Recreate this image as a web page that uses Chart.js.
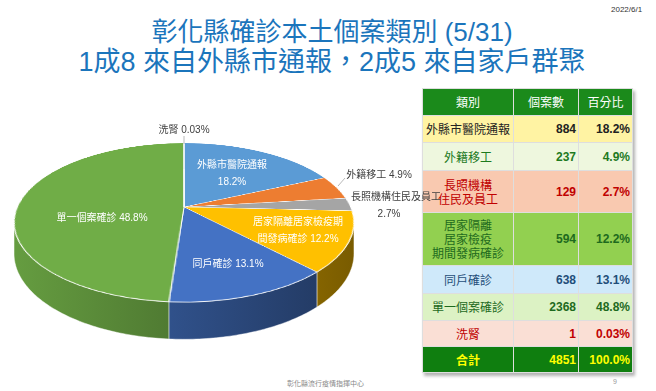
<!DOCTYPE html>
<html lang="zh-Hant-TW">
<head>
<meta charset="utf-8">
<script src="https://cdn.jsdelivr.net/npm/chart.js@4.4.1/dist/chart.umd.min.js"></script>
<style>
  body { margin: 0; width: 656px; height: 391px; background: #fff; overflow: hidden; position: relative;
         font-family: "Liberation Sans", "Noto Sans CJK TC", sans-serif; }
  .title { position: absolute; left: 0; width: 664px; text-align: center; color: #1b75bc; line-height: 30px; white-space: nowrap; }
  #t1 { top: 17px; font-size: 26px; }
  #t2 { top: 47px; font-size: 27px; }
  #date { position: absolute; left: 611px; top: 5px; font-size: 8px; color: #333; }
  #tbl { position: absolute; left: 422px; top: 88px; border-collapse: collapse; table-layout: fixed;
         box-shadow: 2px 3px 3px rgba(0,0,0,0.3); }
  #tbl td { border: 1px solid #dedede; padding: 0; font-size: 12px; line-height: 14px; }
  #tbl td.name { text-align: center; font-family: "Noto Sans CJK TC", sans-serif; }
  #tbl td.num { text-align: right; padding-right: 2px; font-weight: bold; }
  #pie { position: absolute; left: 0; top: 0; width: 460px; height: 391px; z-index: 2; pointer-events: none; }
  #foot { position: absolute; left: 287px; top: 378px; font-size: 7px; color: #888; font-family: "Noto Sans CJK TC", sans-serif; }
  #page { position: absolute; left: 613px; top: 378px; font-size: 7px; color: #999; }
</style>
</head>
<body>
<div id="date">2022/6/1</div>
<div class="title" id="t1">彰化縣確診本土個案類別 (5/31)</div>
<div class="title" id="t2">1成8 來自外縣市通報，2成5 來自家戶群聚</div>
<table id="tbl"></table>
<canvas id="pie" width="460" height="391"></canvas>
<div id="foot">彰化縣流行疫情指揮中心</div>
<div id="page">9</div>

<script>
// data
const categories = ["外縣市醫院通報", "外籍移工", "長照機構住民及員工", "居家隔離居家檢疫期間發病確診", "同戶確診", "單一個案確診", "洗腎"];
const tableNames = [["外縣市醫院通報"], ["外籍移工"], ["長照機構", "住民及員工"], ["居家隔離", "居家檢疫", "期間發病確診"], ["同戶確診"], ["單一個案確診"], ["洗腎"]];
const counts = [884, 237, 129, 594, 638, 2368, 1];
const percents = ["18.2%", "4.9%", "2.7%", "12.2%", "13.1%", "48.8%", "0.03%"];
const headers = ["類別", "個案數", "百分比"];
const totalLabel = "合計";
const totalCount = 4851;
const totalPercent = "100.0%";

// styles
const sliceColors = ["#5b9bd5", "#ed7d31", "#a5a5a5", "#ffc000", "#4472c4", "#70ad47", "#264478"];
const rowBg = ["#fff3a3", "#eef7de", "#f9c9b0", "#92d050", "#cfe9fa", "#dcf2c4", "#fadfd5"];
const rowFg = ["#222222", "#1e7a1e", "#c00000", "#1e6a1e", "#1f4e79", "#1e6a1e", "#c00000"];
const rowH = [27, 28, 42, 53, 28, 27, 26];

// table
const tbl = document.getElementById("tbl");
const colW = [91, 65, 54];
let html = "<colgroup>" + colW.map((w) => `<col style="width:${w}px">`).join("") + "</colgroup>";
html += `<tr style="height:27px;background:#1b8a1b;color:#fff">` +
  headers.map((h) => `<td style="text-align:center;font-family:'Noto Sans CJK TC'">${h}</td>`).join("") + "</tr>";
categories.forEach((c, i) => {
  html += `<tr style="height:${rowH[i]}px;background:${rowBg[i]};color:${rowFg[i]}">` +
    `<td class="name">${tableNames[i].join("<br>")}</td>` +
    `<td class="num">${counts[i]}</td><td class="num">${percents[i]}</td></tr>`;
});
html += `<tr style="height:26px;background:#0f7e0f;color:#ffff00">` +
  `<td class="name" style="font-weight:bold">${totalLabel}</td>` +
  `<td class="num">${totalCount}</td><td class="num">${totalPercent}</td></tr>`;
tbl.innerHTML = html;

function shade(hex, f) {
  const n = parseInt(hex.slice(1), 16);
  const r = Math.round(((n >> 16) & 255) * f), g = Math.round(((n >> 8) & 255) * f), b = Math.round((n & 255) * f);
  return `rgb(${r},${g},${b})`;
}

// label placement for each slice (text lines, centre x, centre y of first line)
const labelLayout = [
  { split: 0, x: 232, y: 165, color: "#fff" },
  { split: -1, x: 379, y: 175, color: "#404040" },
  { split: 0, x: 396, y: 197, color: "#404040", x2: 389 },
  { split: 9, x: 298, y: 222, color: "#fff" },
  { split: -1, x: 228, y: 264, color: "#fff" },
  { split: -1, x: 102, y: 218, color: "#fff" },
  { split: -1, x: 184, y: 130, color: "#404040" },
];

// flat pie from Chart.js, re-projected into a tilted 3D disc
const pie3d = {
  id: "pie3d",
  afterDatasetsDraw(chart, args, o) {
    const ctx = chart.ctx, cv = chart.canvas;
    const meta = chart.getDatasetMeta(0);
    const sx = meta.data[0].x, sy = meta.data[0].y, R = meta.data[0].outerRadius;
    const tmp = document.createElement("canvas");
    tmp.width = cv.width; tmp.height = cv.height;
    tmp.getContext("2d").drawImage(cv, 0, 0);

    ctx.save();
    ctx.setTransform(1, 0, 0, 1, 0, 0);
    ctx.clearRect(0, 0, cv.width, cv.height);
    const { cx, cy, A, B, p, D } = o;
    const proj = (th) => {
      const t = Math.sin(th), w = 1 - p * t;
      return [cx + (A * Math.cos(th)) / w, cy + (B * t) / w, w];
    };

    // side walls
    const th0 = Math.asin(p);
    meta.data.forEach((el, i) => {
      const a = Math.max(el.startAngle, th0), b = Math.min(el.endAngle, Math.PI - th0);
      if (a >= b) return;
      const n = Math.max(2, Math.ceil((b - a) * 60));
      ctx.beginPath();
      for (let k = 0; k <= n; k++) {
        const [x, y] = proj(a + ((b - a) * k) / n);
        k ? ctx.lineTo(x, y) : ctx.moveTo(x, y);
      }
      for (let k = n; k >= 0; k--) {
        const [x, y, w] = proj(a + ((b - a) * k) / n);
        ctx.lineTo(x, y + D / w);
      }
      ctx.closePath();
      const g = ctx.createLinearGradient(cx - A, 0, cx + A, 0);
      g.addColorStop(0, shade(sliceColors[i], 0.9));
      g.addColorStop(1, shade(sliceColors[i], 0.48));
      ctx.fillStyle = g;
      ctx.fill();
      ctx.strokeStyle = "rgba(255,255,255,0.55)";
      ctx.lineWidth = 0.8;
      ctx.stroke();
    });

    // top face, row by row
    const top = Math.floor(cy - B / (1 + p)) - 1, bot = Math.ceil(cy + B / (1 - p)) + 1;
    for (let Y = top; Y <= bot; Y++) {
      const q = (Y + 0.5 - cy) / B;
      const t = q / (1 + p * q);
      if (t < -1.02 || t > 1.02) continue;
      const w = 1 - p * t;
      const sh = Math.max(R / (B * (1 + p * q) * (1 + p * q)), 0.5);
      const k = A / (R * w);
      ctx.drawImage(tmp, 0, sy + R * t - sh / 2, tmp.width, sh, cx - k * sx, Y, tmp.width * k, 1);
    }

    // leader lines
    ctx.strokeStyle = "#a6a6a6";
    ctx.lineWidth = 0.8;
    ctx.beginPath();
    ctx.moveTo(184, 136); ctx.lineTo(184, 144);
    ctx.moveTo(345, 178); ctx.lineTo(338, 186);
    ctx.stroke();

    // labels
    ctx.font = '10px "Liberation Sans", "Noto Sans CJK TC", sans-serif';
    ctx.textAlign = "center";
    ctx.textBaseline = "middle";
    labelLayout.forEach((l, i) => {
      const full = categories[i] + (l.split === 0 ? "" : " ") + percents[i];
      let lines;
      if (l.split === 0) lines = [categories[i], percents[i]];
      else if (l.split > 0) lines = [full.slice(0, l.split), full.slice(l.split)];
      else lines = [full];
      ctx.fillStyle = l.color;
      lines.forEach((s, j) => ctx.fillText(s, j && l.x2 ? l.x2 : l.x, l.y + j * 17.5));
    });
    ctx.restore();
  },
};

new Chart(document.getElementById("pie"), {
  type: "pie",
  data: {
    labels: categories,
    datasets: [{
      data: counts,
      backgroundColor: sliceColors,
      borderColor: "#ffffff",
      borderWidth: 1,
    }],
  },
  options: {
    responsive: false,
    animation: false,
    events: [],
    layout: { padding: { left: 10, right: 110, top: 25, bottom: 26 } },
    plugins: {
      legend: { display: false },
      tooltip: { enabled: false },
      pie3d: { cx: 184, cy: 207, A: 166.7, B: 76.5, p: 0.195, D: 30 },
    },
  },
  plugins: [pie3d],
});
</script>
</body>
</html>
